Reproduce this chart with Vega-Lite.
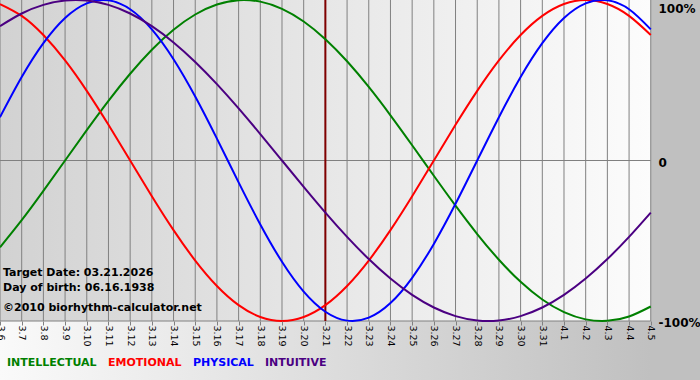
{
  "$schema": "https://vega.github.io/schema/vega-lite/v6.json",
  "width": 700,
  "height": 380,
  "autosize": "none",
  "padding": 0,
  "background": "#c0c0c0",
  "config": {"view": {"stroke": null}},
  "data": {
    "values": [
      {"date": "2026-03-06", "physical": 0.2698, "emotional": 0.9749, "intellectual": -0.5406, "intuitive": 0.8372},
      {"date": "2026-03-07", "physical": 0.5196, "emotional": 0.9010, "intellectual": -0.3717, "intuitive": 0.9158},
      {"date": "2026-03-08", "physical": 0.7308, "emotional": 0.7818, "intellectual": -0.1893, "intuitive": 0.9694},
      {"date": "2026-03-09", "physical": 0.8879, "emotional": 0.6235, "intellectual": 0.0, "intuitive": 0.9966},
      {"date": "2026-03-10", "physical": 0.9791, "emotional": 0.4339, "intellectual": 0.1893, "intuitive": 0.9966},
      {"date": "2026-03-11", "physical": 0.9977, "emotional": 0.2225, "intellectual": 0.3717, "intuitive": 0.9694},
      {"date": "2026-03-12", "physical": 0.9423, "emotional": 0.0, "intellectual": 0.5406, "intuitive": 0.9158},
      {"date": "2026-03-13", "physical": 0.8170, "emotional": -0.2225, "intellectual": 0.6901, "intuitive": 0.8372},
      {"date": "2026-03-14", "physical": 0.6311, "emotional": -0.4339, "intellectual": 0.8146, "intuitive": 0.7357},
      {"date": "2026-03-15", "physical": 0.3984, "emotional": -0.6235, "intellectual": 0.9096, "intuitive": 0.6142},
      {"date": "2026-03-16", "physical": 0.1362, "emotional": -0.7818, "intellectual": 0.9718, "intuitive": 0.4759},
      {"date": "2026-03-17", "physical": -0.1362, "emotional": -0.9010, "intellectual": 0.9989, "intuitive": 0.3247},
      {"date": "2026-03-18", "physical": -0.3984, "emotional": -0.9749, "intellectual": 0.9898, "intuitive": 0.1646},
      {"date": "2026-03-19", "physical": -0.6311, "emotional": -1.0, "intellectual": 0.9450, "intuitive": 0.0},
      {"date": "2026-03-20", "physical": -0.8170, "emotional": -0.9749, "intellectual": 0.8660, "intuitive": -0.1646},
      {"date": "2026-03-21", "physical": -0.9423, "emotional": -0.9010, "intellectual": 0.7557, "intuitive": -0.3247},
      {"date": "2026-03-22", "physical": -0.9977, "emotional": -0.7818, "intellectual": 0.6182, "intuitive": -0.4759},
      {"date": "2026-03-23", "physical": -0.9791, "emotional": -0.6235, "intellectual": 0.4582, "intuitive": -0.6142},
      {"date": "2026-03-24", "physical": -0.8879, "emotional": -0.4339, "intellectual": 0.2817, "intuitive": -0.7357},
      {"date": "2026-03-25", "physical": -0.7308, "emotional": -0.2225, "intellectual": 0.0951, "intuitive": -0.8372},
      {"date": "2026-03-26", "physical": -0.5196, "emotional": 0.0, "intellectual": -0.0951, "intuitive": -0.9158},
      {"date": "2026-03-27", "physical": -0.2698, "emotional": 0.2225, "intellectual": -0.2817, "intuitive": -0.9694},
      {"date": "2026-03-28", "physical": 0.0, "emotional": 0.4339, "intellectual": -0.4582, "intuitive": -0.9966},
      {"date": "2026-03-29", "physical": 0.2698, "emotional": 0.6235, "intellectual": -0.6182, "intuitive": -0.9966},
      {"date": "2026-03-30", "physical": 0.5196, "emotional": 0.7818, "intellectual": -0.7557, "intuitive": -0.9694},
      {"date": "2026-03-31", "physical": 0.7308, "emotional": 0.9010, "intellectual": -0.8660, "intuitive": -0.9158},
      {"date": "2026-04-01", "physical": 0.8879, "emotional": 0.9749, "intellectual": -0.9450, "intuitive": -0.8372},
      {"date": "2026-04-02", "physical": 0.9791, "emotional": 1.0, "intellectual": -0.9898, "intuitive": -0.7357},
      {"date": "2026-04-03", "physical": 0.9977, "emotional": 0.9749, "intellectual": -0.9989, "intuitive": -0.6142},
      {"date": "2026-04-04", "physical": 0.9423, "emotional": 0.9010, "intellectual": -0.9718, "intuitive": -0.4759},
      {"date": "2026-04-05", "physical": 0.8170, "emotional": 0.7818, "intellectual": -0.9096, "intuitive": -0.3247}
    ]
  },
  "layer": [
    {
      "data": {"values": [{}]},
      "mark": {"type": "rect", "color": {"gradient": "linear", "x1": 0, "x2": 1, "y1": 0, "y2": 0, "stops": [{"offset": 0, "color": "#fafafa"}, {"offset": 0.93, "color": "#c0c0c0"}, {"offset": 1, "color": "#c0c0c0"}]}},
      "encoding": {}
    },
    {
      "data": {"values": [{}]},
      "mark": {"type": "rect", "color": {"gradient": "linear", "x1": 0, "x2": 1, "y1": 0, "y2": 0, "stops": [{"offset": 0, "color": "#d2d2d2"}, {"offset": 1, "color": "#fcfcfc"}]}},
      "encoding": {
        "x": {"datum": {"year": 2026, "month": 3, "date": 6, "utc": true}, "type": "temporal"},
        "x2": {"datum": {"year": 2026, "month": 4, "date": 5, "utc": true}},
        "y": {"datum": 1, "type": "quantitative"},
        "y2": {"datum": -1}
      }
    },
    {
      "mark": {"type": "rule", "color": "#808080", "strokeWidth": 1},
      "encoding": {
        "x": {"field": "date", "type": "temporal"},
        "y": {"datum": 1, "type": "quantitative"},
        "y2": {"datum": -1}
      }
    },
    {
      "data": {"values": [{}]},
      "mark": {"type": "rule", "color": "#808080", "strokeWidth": 1},
      "encoding": {
        "x": {"datum": {"year": 2026, "month": 3, "date": 6, "utc": true}, "type": "temporal"},
        "x2": {"datum": {"year": 2026, "month": 4, "date": 5, "utc": true}},
        "y": {"datum": 0, "type": "quantitative"}
      }
    },
    {
      "data": {"values": [{}]},
      "mark": {"type": "rule", "color": "#808080", "strokeWidth": 1},
      "encoding": {
        "x": {"datum": {"year": 2026, "month": 3, "date": 6, "utc": true}, "type": "temporal"},
        "x2": {"datum": {"year": 2026, "month": 4, "date": 5, "utc": true}},
        "y": {"datum": -1, "type": "quantitative"}
      }
    },
    {
      "data": {"values": [{}]},
      "mark": {"type": "rule", "color": "#800000", "strokeWidth": 2},
      "encoding": {
        "x": {"datum": {"year": 2026, "month": 3, "date": 21, "utc": true}, "type": "temporal"},
        "y": {"datum": 1, "type": "quantitative"},
        "y2": {"datum": -1}
      }
    },
    {
      "transform": [{"fold": ["intellectual", "emotional", "physical", "intuitive"], "as": ["cycle", "value"]}],
      "mark": {"type": "line", "strokeWidth": 2, "interpolate": "natural"},
      "encoding": {
        "x": {
          "field": "date",
          "type": "temporal",
          "scale": {"type": "utc", "nice": false, "domain": [{"year": 2026, "month": 3, "date": 6, "utc": true}, {"year": 2026, "month": 4, "date": 7, "hours": 6, "minutes": 29, "utc": true}]},
          "axis": {
            "orient": "bottom",
            "offset": -59,
            "zindex": 1,
            "title": null,
            "domain": false,
            "grid": false,
            "format": "%-m.%-d",
            "labelAngle": 90,
            "labelFont": "DejaVu Sans",
            "labelFontSize": 9.5,
            "labelColor": "#000000",
            "labelPadding": 0,
            "labelOverlap": false,
            "labelFlush": false,
            "labelBound": false,
            "tickColor": "#808080",
            "tickSize": 4,
            "tickCount": 40,
            "values": [
              1772755200000, 1772841600000, 1772928000000, 1773014400000, 1773100800000,
              1773187200000, 1773273600000, 1773360000000, 1773446400000, 1773532800000,
              1773619200000, 1773705600000, 1773792000000, 1773878400000, 1773964800000,
              1774051200000, 1774137600000, 1774224000000, 1774310400000, 1774396800000,
              1774483200000, 1774569600000, 1774656000000, 1774742400000, 1774828800000,
              1774915200000, 1775001600000, 1775088000000, 1775174400000, 1775260800000,
              1775347200000
            ]
          }
        },
        "y": {
          "field": "value",
          "type": "quantitative",
          "scale": {"domain": [-1.3676, 1], "nice": false, "zero": false},
          "axis": {
            "orient": "right",
            "offset": -49,
            "zindex": 1,
            "title": null,
            "values": [-1, 0, 1],
            "labelExpr": "datum.value == 1 ? '100%' : (datum.value == -1 ? '-100%' : '0')",
            "ticks": false,
            "domain": false,
            "grid": false,
            "labelPadding": 7,
            "labelFont": "DejaVu Sans",
            "labelFontSize": 12,
            "labelFontWeight": "bold",
            "labelColor": "#000000",
            "labelBaseline": "middle",
            "labelOffset": {"condition": {"test": "datum.value == 1", "value": 8}, "value": 1.5},
            "labelOverlap": false,
            "labelFlush": false,
            "labelBound": false
          }
        },
        "color": {
          "field": "cycle",
          "type": "nominal",
          "scale": {"domain": ["intellectual", "emotional", "physical", "intuitive"], "range": ["#008000", "#ff0000", "#0000ff", "#4b0082"]},
          "legend": {
            "orient": "none",
            "legendX": -4,
            "legendY": 357,
            "direction": "horizontal",
            "title": null,
            "padding": 0,
            "symbolType": "circle",
            "symbolSize": 0,
            "symbolStrokeWidth": 0,
            "symbolOpacity": 0,
            "labelOffset": 0,
            "columnPadding": -3,
            "labelFont": "DejaVu Sans",
            "labelFontSize": 11,
            "labelFontWeight": "bold",
            "labelExpr": "upper(datum.label)",
            "encode": {"labels": {"update": {"fill": {"scale": "color", "field": "value"}}}}
          }
        }
      }
    },
    {
      "data": {"values": [{}]},
      "mark": {"type": "text", "align": "left", "baseline": "alphabetic", "font": "DejaVu Sans", "fontSize": 11, "fontWeight": "bold", "color": "#000000", "dx": 3, "lineHeight": 15},
      "encoding": {
        "x": {"datum": {"year": 2026, "month": 3, "date": 6, "utc": true}, "type": "temporal"},
        "y": {"datum": -0.7196, "type": "quantitative"},
        "text": {"value": ["Target Date: 03.21.2026", "Day of birth: 06.16.1938"]}
      }
    },
    {
      "data": {"values": [{}]},
      "mark": {"type": "text", "align": "left", "baseline": "alphabetic", "font": "DejaVu Sans", "fontSize": 11, "fontWeight": "bold", "color": "#000000", "dx": 3},
      "encoding": {
        "x": {"datum": {"year": 2026, "month": 3, "date": 6, "utc": true}, "type": "temporal"},
        "y": {"datum": -0.9377, "type": "quantitative"},
        "text": {"value": "©2010 biorhythm-calculator.net"}
      }
    }
  ]
}
